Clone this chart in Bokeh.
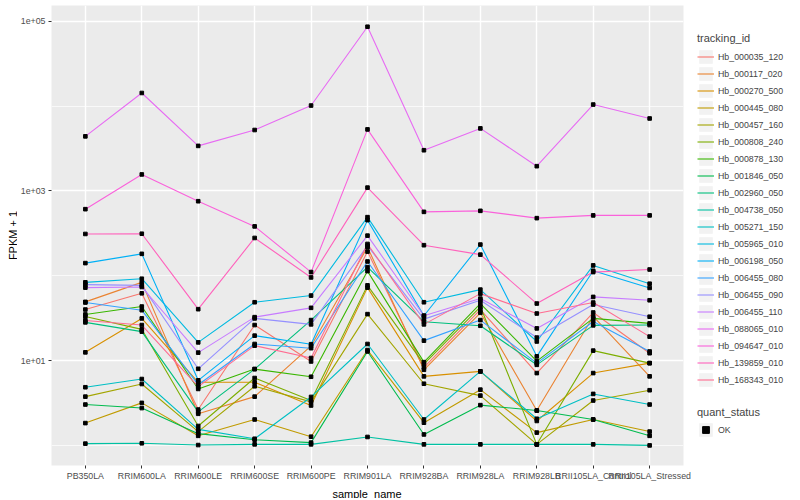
import math
from bokeh.plotting import figure
from bokeh.models import Range1d, FixedTicker, CustomJSTickFormatter, Legend, LegendItem, Label
from bokeh.layouts import row, column
from bokeh.embed import file_html
from bokeh.resources import INLINE

samples = ["PB350LA", "RRIM600LA", "RRIM600LE", "RRIM600SE", "RRIM600PE", "RRIM901LA",
           "RRIM928BA", "RRIM928LA", "RRIM928LB", "RRII105LA_Control", "RRII105LA_Stressed"]

tracking_ids = ["Hb_000035_120", "Hb_000117_020", "Hb_000270_500", "Hb_000445_080", "Hb_000457_160",
                "Hb_000808_240", "Hb_000878_130", "Hb_001846_050", "Hb_002960_050", "Hb_004738_050",
                "Hb_005271_150", "Hb_005965_010", "Hb_006198_050", "Hb_006455_080", "Hb_006455_090",
                "Hb_006455_110", "Hb_088065_010", "Hb_094647_010", "Hb_139859_010", "Hb_168343_010"]

colors = ["#F8766D", "#EA8331", "#D89000", "#C09B00", "#A3A500", "#7CAE00", "#39B600", "#00BB4E",
          "#00BF7D", "#00C1A3", "#00BFC4", "#00BAE0", "#00B0F6", "#35A2FF", "#9590FF", "#C77CFF",
          "#E76BF3", "#FA62DB", "#FF62BC", "#FF6C91"]

# FPKM + 1 per sample (order of `samples`)
hb_000035_120 = [40.2, 62.4, 2.67, 26.4, 9.84, 193.5, 8.37, 40.2, 7.18, 37.1, 12.3]
hb_000117_020 = [49.5, 84.0, 2.38, 3.79, 15.0, 218.0, 7.85, 36.8, 2.60, 33.3, 6.57]
hb_000270_500 = [12.6, 31.6, 5.59, 5.59, 2.98, 72.8, 6.57, 7.52, 1.96, 7.18, 9.40]
hb_000445_080 = [1.85, 3.20, 1.31, 2.04, 1.28, 13.4, 1.87, 4.58, 1.43, 2.04, 1.47]
hb_000457_160 = [3.79, 5.34, 1.47, 5.02, 3.29, 35.5, 5.38, 3.90, 1.04, 3.41, 4.51]
hb_000808_240 = [33.3, 23.5, 1.71, 6.28, 3.41, 77.4, 9.15, 43.3, 1.04, 13.2, 9.40]
hb_000878_130 = [35.2, 43.6, 4.67, 8.00, 6.50, 114.0, 9.66, 47.3, 9.92, 31.6, 27.6]
hb_001846_050 = [3.06, 2.78, 1.39, 1.18, 1.09, 12.9, 1.36, 3.01, 2.60, 2.04, 1.31]
hb_002960_050 = [28.4, 22.1, 2.51, 8.00, 30.2, 127.0, 28.9, 25.9, 8.98, 26.2, 26.4]
hb_004738_050 = [1.06, 1.07, 1.02, 1.04, 1.04, 1.27, 1.04, 1.04, 1.04, 1.04, 1.01]
hb_005271_150 = [4.89, 6.11, 1.56, 1.21, 3.76, 15.8, 2.04, 7.52, 2.08, 4.08, 3.06]
hb_005965_010 = [84.0, 92.7, 16.5, 49.0, 58.7, 492.0, 49.0, 69.0, 16.9, 133.0, 81.0]
hb_006198_050 = [141.6, 182.0, 5.90, 19.8, 15.7, 454.0, 34.0, 234.0, 11.3, 115.0, 72.2]
hb_006455_080 = [48.6, 39.5, 5.24, 15.8, 14.1, 148.0, 17.3, 30.2, 9.40, 29.1, 12.9]
hb_006455_090 = [78.9, 77.4, 8.06, 31.6, 26.9, 227.0, 31.0, 51.7, 18.8, 46.0, 33.1]
hb_006455_110 = [72.8, 74.1, 12.5, 32.7, 42.1, 298.0, 34.0, 54.1, 24.1, 56.6, 51.7]
hb_088065_010 = [4400, 14260, 3396, 5224, 10140, 85950, 3019, 5458, 1960, 10420, 7143]
hb_094647_010 = [611, 1567, 758, 383, 111, 5309, 568, 584, 479, 516, 516]
hb_139859_010 = [312, 314, 40.6, 280, 96.0, 1096, 230, 178, 47.3, 111, 119]
hb_168343_010 = [29.9, 26.4, 4.97, 15.1, 10.8, 238.0, 26.9, 61.9, 36.1, 48.6, 19.3]

series = [hb_000035_120, hb_000117_020, hb_000270_500, hb_000445_080, hb_000457_160,
          hb_000808_240, hb_000878_130, hb_001846_050, hb_002960_050, hb_004738_050,
          hb_005271_150, hb_005965_010, hb_006198_050, hb_006455_080, hb_006455_090,
          hb_006455_110, hb_088065_010, hb_094647_010, hb_139859_010, hb_168343_010]

quant_status = ["OK"]
y_ticks = [10, 1000, 100000]
y_minor = [1, 100, 10000]

FONT = "Liberation Sans"
xs = list(range(len(samples)))

# layout sizes (px)
TOTAL_W, TOTAL_H = 798, 498
YLAB_W = 17                 # strip holding the y title
XLAB_H = 14                 # strip holding the x title
P_LEFT, P_RIGHT, P_TOP, P_BOTTOM = 33, 8, 5, 19
FRAME_W = 633
P_W = P_LEFT + FRAME_W + P_RIGHT
P_H = TOTAL_H - XLAB_H
FRAME_H = P_H - P_TOP - P_BOTTOM
LG_W = TOTAL_W - YLAB_W - P_W

p = figure(width=P_W, height=P_H, x_range=Range1d(-0.6, len(samples) - 0.4),
           y_range=Range1d(0.586, 152800), y_axis_type="log",
           toolbar_location=None, output_backend="svg",
           min_border_left=P_LEFT, min_border_right=P_RIGHT, min_border_top=P_TOP,
           min_border_bottom=P_BOTTOM)
p.background_fill_color = "#EBEBEB"
p.border_fill_color = "white"
p.outline_line_color = None

xt = FixedTicker(ticks=xs)
p.xaxis.ticker = xt
p.xgrid.ticker = xt
p.xaxis.major_label_overrides = {i: s for i, s in enumerate(samples)}
yt = FixedTicker(ticks=y_ticks, minor_ticks=y_minor)
p.yaxis.ticker = yt
p.ygrid.ticker = yt
p.yaxis.formatter = CustomJSTickFormatter(code="""
const e = Math.round(Math.log10(tick));
return "1e+" + (e < 10 ? "0" : "") + e;
""")

for g in (p.xgrid, p.ygrid):
    g.grid_line_color = "white"
    g.grid_line_width = 1.4
p.ygrid.minor_grid_line_color = "white"
p.ygrid.minor_grid_line_width = 0.7

for ax in (p.xaxis, p.yaxis):
    ax.axis_line_color = None
    ax.major_tick_in = 0
    ax.major_tick_out = 3
    ax.major_tick_line_color = "#333333"
    ax.minor_tick_line_color = None
    ax.major_label_text_font = FONT
    ax.major_label_text_font_size = "8.8px"
    ax.major_label_text_color = "#4D4D4D"
    ax.major_label_standoff = 2

line_rs = []
for vals, c in zip(series, colors):
    line_rs.append(p.line(xs, vals, line_color=c, line_width=1.1))
for vals in series:
    p.scatter(xs, vals, marker="square", size=3.6, color="black")


def blank(w, h):
    f = figure(width=w, height=h, x_range=Range1d(0, 1), y_range=Range1d(0, 1),
               toolbar_location=None, output_backend="svg", min_border=0,
               x_axis_location=None, y_axis_location=None)
    f.outline_line_color = None
    f.grid.grid_line_color = None
    f.background_fill_color = "white"
    f.border_fill_color = "white"
    return f


# y title strip
ylab = blank(YLAB_W, P_H)
ylab.add_layout(Label(x=12, y=FRAME_H / 2, x_units="screen", y_units="screen", text="FPKM + 1",
                      angle=math.pi / 2, text_font=FONT, text_font_size="11px", text_color="black",
                      text_align="center", text_baseline="middle"))

# x title strip
xlab = blank(TOTAL_W, XLAB_H)
xlab.add_layout(Label(x=YLAB_W + P_LEFT + FRAME_W / 2, y=5, x_units="screen",
                      y_units="screen", text="sample_name", text_font=FONT, text_font_size="11px",
                      text_color="black", text_align="center", text_baseline="alphabetic"))

# legend panel: glyphs carry one point each, placed outside the visible range
lg = blank(LG_W, P_H)
bg = lg.quad(left=[-3], right=[-2], top=[-2], bottom=[-3], fill_color="#F2F2F2", line_color=None)
lg_lines = [lg.line([-3, -2], [-3, -2], line_color=c, line_width=1.1) for c in colors]
lg_pt = lg.scatter([-3], [-3], marker="square", size=4, color="black")


def style(leg, title):
    leg.title = title
    leg.title_text_font = FONT
    leg.title_text_font_size = "11px"
    leg.title_text_font_style = "normal"
    leg.label_text_font = FONT
    leg.label_text_font_size = "8.8px"
    leg.glyph_width = 17
    leg.glyph_height = 17
    leg.label_height = 17
    leg.spacing = 0
    leg.padding = 0
    leg.margin = 0
    leg.label_standoff = 4
    leg.border_line_color = None
    leg.background_fill_alpha = 0


# the legend panel's frame is aligned with the plot frame
leg1 = Legend(items=[LegendItem(label=n, renderers=[bg, r]) for n, r in zip(tracking_ids, lg_lines)],
              location=(6, 77))
style(leg1, "tracking_id")
leg1.title_standoff = 4
leg2 = Legend(items=[LegendItem(label=quant_status[0], renderers=[bg, lg_pt])], location=(6, 27))
style(leg2, "quant_status")
leg2.title_standoff = 3
lg.add_layout(leg1, "center")
lg.add_layout(leg2, "center")

layout = column(row(ylab, p, lg), xlab)
open("out.html", "w").write(file_html(layout, INLINE))
